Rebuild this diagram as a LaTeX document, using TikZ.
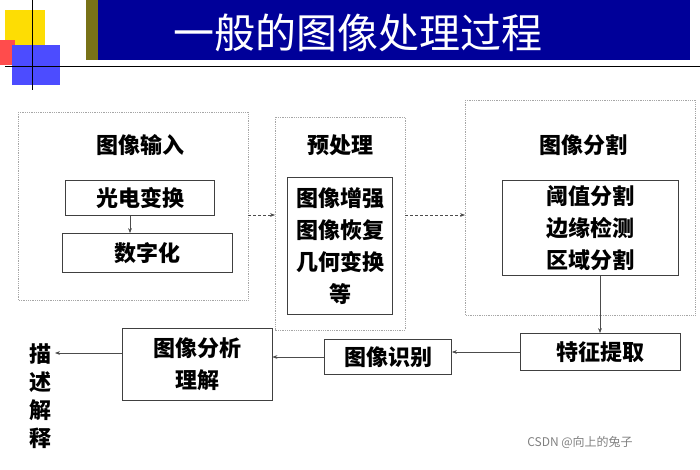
\documentclass[tikz,border=0pt]{standalone}
\usepackage{fontspec}
\setmainfont{Noto Sans CJK SC}
\usetikzlibrary{arrows.meta}
\begin{document}
\begin{tikzpicture}[x=1pt,y=-1pt,
  grp/.style={draw=gray!70,densely dotted,line width=0.8pt},
  bx/.style={draw=black!75,line width=0.8pt,fill=white},
  lab/.style={font=\fontsize{22}{32}\selectfont\bfseries},
  arr/.style={-{Stealth[length=5pt]},line width=0.6pt,black!70}]
\useasboundingbox (0,0) rectangle (700,470);
% decoration
\fill[yellow!80!orange] (5,10) rectangle (45,45);
\fill[red!70] (0,40) rectangle (15,65);
\fill[blue!70] (12,45) rectangle (60,85);
\draw[line width=1pt] (32,0) -- (32,90);
\draw[line width=1pt] (5,67) -- (700,67);
\fill[olive!80!black] (86,0) rectangle (98,60);
\fill[blue!60!black] (98,0) rectangle (690,60);
\node[text=white,font=\fontsize{41}{44}\selectfont] (t) at (358,33) {一般的图像处理过程};
% groups
\draw[grp] (18,112) rectangle (248,300);
\node[lab] (g1) at (140,145) {图像输入};
\node[bx,lab,minimum width=149pt,minimum height=35pt,inner sep=1pt] (a1) at (140,198) {光电变换};
\node[bx,lab,minimum width=170pt,minimum height=39pt,inner sep=1pt] (a2) at (147,253) {数字化};
\draw[arr] (a1.south -| 130,0) -- (a2.north -| 130,0);
\draw[grp] (275,117) rectangle (405,330);
\node[lab] (g2) at (340,145) {预处理};
\node[bx,lab,minimum width=105pt,minimum height=137pt,text width=95pt,inner sep=1pt,align=center] (b1) at (340,246) {图像增强\\图像恢复\\几何变换\\等};
\draw[grp] (465,100) rectangle (695,315);
\node[lab] (g3) at (583,145) {图像分割};
\node[bx,lab,minimum width=176pt,minimum height=95pt,align=center,inner sep=1pt] (c1) at (590,228) {阈值分割\\边缘检测\\区域分割};
\coordinate (p1) at (248,215); \coordinate (p2) at (275,215);
\draw[arr,densely dashed] (p1) -- (p2);
\coordinate (q1) at (405,215); \coordinate (q2) at (465,215);
\draw[arr,densely dashed] (q1) -- (q2);
\node[bx,lab,minimum width=160pt,minimum height=37pt,inner sep=1pt] (d) at (600,352) {特征提取};
\draw[arr] (c1.south -| d.north) -- (d.north);
\node[bx,lab,minimum width=127pt,minimum height=35pt,inner sep=1pt] (e) at (388,357) {图像识别};
\draw[arr] (d.west) -- (e.east |- d.west);
\node[bx,lab,minimum width=150pt,minimum height=72pt,align=center,inner sep=1pt] (f) at (197,364) {图像分析\\理解};
\draw[arr] (e.west) -- (f.east |- e.west);
\node[align=center,font=\fontsize{22}{28}\selectfont\bfseries] (g) at (40,396) {描\\述\\解\\释};
\coordinate (gr) at (55,353);
\draw[arr] (f.west |- gr) -- (gr);
\node[text=gray,font=\fontsize{12}{14}\selectfont] (w) at (580,442) {CSDN @向上的兔子};
\end{tikzpicture}
\end{document}
